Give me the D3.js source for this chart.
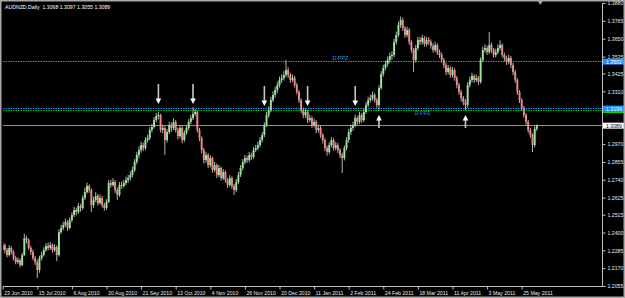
<!DOCTYPE html>
<html><head><meta charset="utf-8">
<script src="https://cdn.jsdelivr.net/npm/d3@7"></script>
<style>html,body{margin:0;padding:0;background:#000;}svg{display:block}</style>
</head><body>
<svg id="c" width="625" height="298"></svg>
<script>
const chartTitle = "AUDNZD,Daily  1.3068 1.3097 1.3055 1.3089";

const opens = [1.2290,1.2319,1.2287,1.2255,1.2300,1.2274,1.2235,1.2210,1.2222,1.2190,
1.2255,1.2364,1.2351,1.2300,1.2274,1.2235,1.2210,1.2158,1.2235,1.2255,
1.2287,1.2313,1.2300,1.2319,1.2287,1.2306,1.2255,1.2403,1.2429,1.2448,
1.2468,1.2429,1.2480,1.2513,1.2545,1.2532,1.2571,1.2558,1.2622,1.2661,
1.2700,1.2674,1.2577,1.2609,1.2635,1.2590,1.2622,1.2577,1.2558,1.2597,
1.2719,1.2706,1.2726,1.2674,1.2642,1.2706,1.2700,1.2719,1.2738,1.2751,
1.2771,1.2803,1.2855,1.2900,1.2932,1.2964,1.2945,1.2996,1.3009,1.3061,
1.3080,1.3125,1.3151,1.3158,1.3061,1.3074,1.2996,1.3048,1.3093,1.3074,
1.3113,1.3061,1.3022,1.3074,1.2996,1.3042,1.3074,1.3113,1.3138,1.3164,
1.3177,1.3061,1.3009,1.2932,1.2867,1.2900,1.2835,1.2880,1.2803,1.2835,
1.2771,1.2816,1.2751,1.2790,1.2738,1.2706,1.2751,1.2700,1.2674,1.2726,
1.2771,1.2816,1.2855,1.2880,1.2867,1.2900,1.2887,1.2932,1.2945,1.2964,
1.2996,1.3029,1.3093,1.3158,1.3190,1.3254,1.3287,1.3319,1.3351,1.3383,
1.3396,1.3416,1.3448,1.3416,1.3383,1.3396,1.3351,1.3306,1.3254,1.3190,
1.3158,1.3177,1.3125,1.3138,1.3093,1.3113,1.3061,1.3074,1.3029,1.2996,
1.2945,1.2919,1.2964,1.2996,1.2945,1.2964,1.2932,1.2900,1.2880,1.2945,
1.2996,1.3048,1.3074,1.3093,1.3138,1.3113,1.3158,1.3125,1.3177,1.3222,
1.3254,1.3267,1.3287,1.3254,1.3222,1.3332,1.3422,1.3461,1.3487,1.3512,
1.3538,1.3545,1.3629,1.3674,1.3738,1.3770,1.3719,1.3674,1.3706,1.3629,
1.3577,1.3512,1.3590,1.3641,1.3629,1.3654,1.3616,1.3641,1.3629,1.3603,
1.3577,1.3609,1.3564,1.3545,1.3512,1.3480,1.3435,1.3461,1.3416,1.3448,
1.3396,1.3351,1.3306,1.3267,1.3242,1.3222,1.3351,1.3383,1.3409,1.3383,
1.3396,1.3371,1.3512,1.3577,1.3590,1.3564,1.3609,1.3577,1.3545,1.3564,
1.3590,1.3609,1.3545,1.3525,1.3500,1.3525,1.3480,1.3435,1.3383,1.3306,
1.3254,1.3203,1.3158,1.3113,1.3061,1.3029,1.2964,1.3068];

const highs = [1.2345,1.2330,1.2300,1.2318,1.2312,1.2285,1.2250,1.2240,1.2232,1.2270,
1.2392,1.2380,1.2362,1.2315,1.2290,1.2248,1.2225,1.2250,1.2275,1.2305,
1.2330,1.2335,1.2338,1.2330,1.2325,1.2318,1.2420,1.2450,1.2470,1.2490,
1.2480,1.2498,1.2530,1.2565,1.2560,1.2590,1.2585,1.2640,1.2690,1.2722,
1.2710,1.2685,1.2630,1.2660,1.2648,1.2645,1.2635,1.2592,1.2615,1.2738,
1.2740,1.2750,1.2738,1.2690,1.2725,1.2728,1.2738,1.2760,1.2772,1.2795,
1.2825,1.2875,1.2920,1.2955,1.2985,1.2980,1.3015,1.3030,1.3080,1.3100,
1.3145,1.3170,1.3177,1.3165,1.3095,1.3085,1.3065,1.3115,1.3110,1.3135,
1.3125,1.3075,1.3090,1.3085,1.3060,1.3092,1.3130,1.3158,1.3209,1.3195,
1.3185,1.3075,1.3020,1.2945,1.2920,1.2912,1.2898,1.2890,1.2855,1.2845,
1.2835,1.2825,1.2808,1.2800,1.2750,1.2770,1.2762,1.2712,1.2745,1.2790,
1.2835,1.2875,1.2900,1.2895,1.2920,1.2915,1.2950,1.2965,1.2985,1.3015,
1.3048,1.3110,1.3178,1.3212,1.3275,1.3310,1.3340,1.3372,1.3405,1.3420,
1.3440,1.3512,1.3465,1.3430,1.3420,1.3410,1.3365,1.3318,1.3265,1.3205,
1.3198,1.3190,1.3160,1.3150,1.3135,1.3125,1.3095,1.3088,1.3040,1.3008,
1.2960,1.2982,1.3015,1.3008,1.2985,1.2978,1.2945,1.2915,1.2962,1.3015,
1.3068,1.3095,1.3115,1.3160,1.3150,1.3178,1.3170,1.3198,1.3242,1.3275,
1.3290,1.3310,1.3300,1.3268,1.3350,1.3440,1.3482,1.3508,1.3535,1.3560,
1.3568,1.3650,1.3695,1.3760,1.3792,1.3785,1.3730,1.3728,1.3718,1.3640,
1.3590,1.3610,1.3662,1.3660,1.3675,1.3668,1.3662,1.3660,1.3645,1.3620,
1.3630,1.3620,1.3580,1.3560,1.3525,1.3495,1.3480,1.3472,1.3468,1.3460,
1.3410,1.3365,1.3320,1.3280,1.3260,1.3370,1.3405,1.3430,1.3420,1.3418,
1.3410,1.3530,1.3598,1.3612,1.3605,1.3693,1.3625,1.3590,1.3585,1.3612,
1.3640,1.3620,1.3560,1.3540,1.3545,1.3538,1.3495,1.3448,1.3395,1.3318,
1.3265,1.3215,1.3170,1.3125,1.3075,1.3040,1.3085,1.3097];

const lows = [1.2270,1.2265,1.2240,1.2245,1.2258,1.2220,1.2195,1.2198,1.2175,1.2182,
1.2248,1.2330,1.2290,1.2255,1.2220,1.2190,1.2106,1.2140,1.2220,1.2245,
1.2275,1.2285,1.2288,1.2270,1.2275,1.2215,1.2245,1.2390,1.2415,1.2435,
1.2410,1.2420,1.2468,1.2500,1.2510,1.2520,1.2535,1.2545,1.2610,1.2650,
1.2655,1.2532,1.2560,1.2595,1.2575,1.2580,1.2560,1.2540,1.2545,1.2590,
1.2690,1.2695,1.2655,1.2609,1.2630,1.2682,1.2688,1.2705,1.2720,1.2735,
1.2755,1.2790,1.2840,1.2880,1.2915,1.2925,1.2930,1.2980,1.2995,1.3045,
1.3070,1.3110,1.3130,1.3045,1.3040,1.2900,1.2980,1.3035,1.3050,1.3060,
1.3045,1.3000,1.3010,1.2975,1.2985,1.3030,1.3060,1.3100,1.3125,1.3150,
1.3045,1.2990,1.2910,1.2845,1.2850,1.2815,1.2820,1.2785,1.2790,1.2750,
1.2758,1.2735,1.2738,1.2720,1.2688,1.2695,1.2680,1.2642,1.2660,1.2712,
1.2758,1.2800,1.2840,1.2848,1.2852,1.2868,1.2875,1.2918,1.2930,1.2950,
1.2980,1.3015,1.3080,1.3140,1.3175,1.3240,1.3270,1.3300,1.3335,1.3365,
1.3380,1.3400,1.3398,1.3365,1.3370,1.3335,1.3290,1.3235,1.3170,1.3138,
1.3140,1.3105,1.3110,1.3075,1.3078,1.3040,1.3045,1.3010,1.2975,1.2925,
1.2895,1.2905,1.2950,1.2928,1.2930,1.2912,1.2880,1.2784,1.2865,1.2930,
1.2980,1.3030,1.3055,1.3080,1.3095,1.3100,1.3108,1.3112,1.3165,1.3208,
1.3238,1.3250,1.3238,1.3205,1.3190,1.3320,1.3405,1.3445,1.3470,1.3495,
1.3515,1.3530,1.3612,1.3660,1.3720,1.3700,1.3655,1.3660,1.3610,1.3560,
1.3435,1.3495,1.3575,1.3610,1.3612,1.3598,1.3600,1.3610,1.3585,1.3560,
1.3562,1.3545,1.3525,1.3495,1.3460,1.3415,1.3420,1.3398,1.3400,1.3378,
1.3330,1.3288,1.3245,1.3220,1.3190,1.3205,1.3335,1.3368,1.3365,1.3370,
1.3352,1.3360,1.3498,1.3560,1.3545,1.3550,1.3558,1.3528,1.3530,1.3550,
1.3575,1.3528,1.3505,1.3480,1.3485,1.3460,1.3415,1.3365,1.3288,1.3235,
1.3185,1.3140,1.3095,1.3042,1.3010,1.2919,1.2950,1.3055];

const closes = [1.2319,1.2287,1.2255,1.2300,1.2274,1.2235,1.2210,1.2222,1.2190,1.2255,
1.2364,1.2351,1.2300,1.2274,1.2235,1.2210,1.2158,1.2235,1.2255,1.2287,
1.2313,1.2300,1.2319,1.2287,1.2306,1.2255,1.2403,1.2429,1.2448,1.2468,
1.2429,1.2480,1.2513,1.2545,1.2532,1.2571,1.2558,1.2622,1.2661,1.2700,
1.2674,1.2577,1.2609,1.2635,1.2590,1.2622,1.2577,1.2558,1.2597,1.2719,
1.2706,1.2726,1.2674,1.2642,1.2706,1.2700,1.2719,1.2738,1.2751,1.2771,
1.2803,1.2855,1.2900,1.2932,1.2964,1.2945,1.2996,1.3009,1.3061,1.3080,
1.3125,1.3151,1.3158,1.3061,1.3074,1.2996,1.3048,1.3093,1.3074,1.3113,
1.3061,1.3022,1.3074,1.2996,1.3042,1.3074,1.3113,1.3138,1.3164,1.3177,
1.3061,1.3009,1.2932,1.2867,1.2900,1.2835,1.2880,1.2803,1.2835,1.2771,
1.2816,1.2751,1.2790,1.2738,1.2706,1.2751,1.2700,1.2674,1.2726,1.2771,
1.2816,1.2855,1.2880,1.2867,1.2900,1.2887,1.2932,1.2945,1.2964,1.2996,
1.3029,1.3093,1.3158,1.3190,1.3254,1.3287,1.3319,1.3351,1.3383,1.3396,
1.3416,1.3448,1.3416,1.3383,1.3396,1.3351,1.3306,1.3254,1.3190,1.3158,
1.3177,1.3125,1.3138,1.3093,1.3113,1.3061,1.3074,1.3029,1.2996,1.2945,
1.2919,1.2964,1.2996,1.2945,1.2964,1.2932,1.2900,1.2880,1.2945,1.2996,
1.3048,1.3074,1.3093,1.3138,1.3113,1.3158,1.3125,1.3177,1.3222,1.3254,
1.3267,1.3287,1.3254,1.3222,1.3332,1.3422,1.3461,1.3487,1.3512,1.3538,
1.3545,1.3629,1.3674,1.3738,1.3770,1.3719,1.3674,1.3706,1.3629,1.3577,
1.3512,1.3590,1.3641,1.3629,1.3654,1.3616,1.3641,1.3629,1.3603,1.3577,
1.3609,1.3564,1.3545,1.3512,1.3480,1.3435,1.3461,1.3416,1.3448,1.3396,
1.3351,1.3306,1.3267,1.3242,1.3222,1.3351,1.3383,1.3409,1.3383,1.3396,
1.3371,1.3512,1.3577,1.3590,1.3564,1.3609,1.3577,1.3545,1.3564,1.3590,
1.3609,1.3545,1.3525,1.3500,1.3525,1.3480,1.3435,1.3383,1.3306,1.3254,
1.3203,1.3158,1.3113,1.3061,1.3029,1.2964,1.3068,1.3089];

// date axis: one label every 16 daily bars, starting at bar 0
const dateLabels = ["23 Jun 2010","15 Jul 2010","6 Aug 2010","30 Aug 2010","21 Sep 2010","13 Oct 2010",
  "4 Nov 2010","26 Nov 2010","20 Dec 2010","11 Jan 2011","2 Feb 2011","24 Feb 2011","18 Mar 2011",
  "11 Apr 2011","3 May 2011","25 May 2011"];
const dateLabelBars = [0,16,32,48,64,80,96,112,128,144,160,176,192,208,224,240];

const priceTicks = [1.3880,1.3765,1.3650,1.3535,1.3425,1.3310,1.2970,1.2855,1.2740,1.2625,1.2515,1.2400,1.2285,1.2170,1.2055];

// horizontal levels
const blueLevels = [1.3502, 1.3199];
const greenLevels = [1.3187];
const bidPrice = 1.3089;
const ppzLabels = [{bar:152.5, price:1.3515, text:"D PPZ"}, {bar:190.5, price:1.3160, text:"D PPZ"}];

// arrows: bar index, tip price, direction
const arrowBars   = [72, 88, 121, 141, 163, 174, 214];
const arrowPrices = [1.3229, 1.3229, 1.3216, 1.3216, 1.3216, 1.3158, 1.3158];
const arrowDirs   = ["down","down","down","down","down","up","up"];

const svg = d3.select("#c");
const W = 625, H = 298;
const plotL = 3, plotR = 602, plotT = 3, plotB = 286;
const font = "'Liberation Sans', Arial, sans-serif";

svg.append("rect").attr("width", W).attr("height", H).attr("fill", "#000");

const x = d3.scaleLinear().domain([0, 247]).range([2.7, 2.7 + 247 * 2.1625]);
const y = d3.scaleLinear().domain([1.2055, 1.3880]).range([plotB, plotT]);
const ly = p => Math.floor(y(p) + 1e-6) + 0.5;

const plot = svg.append("g");
plot.append("clipPath").attr("id","clip").append("rect")
  .attr("x", plotL).attr("y", plotT).attr("width", plotR - plotL).attr("height", plotB - plotT);
const g = plot.append("g").attr("clip-path", "url(#clip)");

// level lines
blueLevels.forEach(p => g.append("line").attr("x1", plotL).attr("x2", plotR)
  .attr("y1", ly(p)).attr("y2", ly(p))
  .attr("stroke", "#1e90ff").attr("stroke-width", 1).attr("stroke-dasharray", "1.5,1"));
greenLevels.forEach(p => g.append("line").attr("x1", plotL).attr("x2", plotR)
  .attr("y1", ly(p)).attr("y2", ly(p))
  .attr("stroke", "#00c800").attr("stroke-width", 1).attr("stroke-dasharray", "1.5,1"));
g.append("line").attr("x1", plotL).attr("x2", plotR)
  .attr("y1", ly(bidPrice)).attr("y2", ly(bidPrice))
  .attr("stroke", "#8092a4").attr("stroke-width", 1);

// candles
const bars = d3.range(closes.length).map(i => ({i, o: opens[i], h: highs[i], l: lows[i], c: closes[i]}));
const cg = g.append("g");
cg.selectAll("line.w").data(bars).join("line").attr("class", "w")
  .attr("x1", d => x(d.i)).attr("x2", d => x(d.i))
  .attr("y1", d => y(Math.max(d.h, d.o, d.c))).attr("y2", d => y(Math.min(d.l, d.o, d.c)))
  .attr("stroke", "#c8c8c8").attr("stroke-width", 0.9);
cg.selectAll("rect.b").data(bars).join("rect").attr("class", "b")
  .attr("x", d => x(d.i) - 0.95).attr("width", 1.9)
  .attr("y", d => y(Math.max(d.o, d.c)))
  .attr("height", d => Math.max(0.8, Math.abs(y(d.o) - y(d.c))))
  .attr("fill", d => d.c >= d.o ? "#98e898" : "#f08888");

// PPZ labels
ppzLabels.forEach(t => g.append("text").attr("x", x(t.bar)).attr("y", y(t.price))
  .attr("fill", "#1e90ff").attr("font-family", font).attr("font-size", 5.4).text(t.text));

// arrows
arrowBars.forEach((b, k) => {
  const ax = x(b), ty = y(arrowPrices[k]);
  const s = arrowDirs[k] === "down" ? -1 : 1;
  const len = arrowDirs[k] === "down" ? 20 : 13;
  g.append("line").attr("x1", ax).attr("x2", ax).attr("y1", ty + s * 5).attr("y2", ty + s * len)
    .attr("stroke", "#c8c8c8").attr("stroke-width", 1.6);
  g.append("path").attr("d", `M${ax - 2.8},${ty + s * 5.5} L${ax + 2.8},${ty + s * 5.5} L${ax},${ty} Z`)
    .attr("fill", "#ffffff");
});

// title
svg.append("text").attr("x", 5).attr("y", 9).attr("fill", "#ffffff")
  .attr("font-family", font).attr("font-size", 5.2).attr("xml:space", "preserve")
  .style("white-space", "pre").text(chartTitle);

// axes
const axisColor = "#c0c0c0";
svg.append("line").attr("x1", plotR + 0.5).attr("x2", plotR + 0.5).attr("y1", plotT).attr("y2", plotB + 0.5)
  .attr("stroke", axisColor);
svg.append("line").attr("x1", plotL).attr("x2", plotR + 0.5).attr("y1", plotB + 0.5).attr("y2", plotB + 0.5)
  .attr("stroke", axisColor);

const yAxis = d3.axisRight(y).tickValues(priceTicks).tickSize(3).tickPadding(2).tickFormat(d3.format(".4f"));
const ya = svg.append("g").attr("transform", `translate(${plotR + 0.5},0)`).call(yAxis);
ya.select(".domain").remove();
ya.selectAll("line").attr("stroke", axisColor);
ya.selectAll("text").attr("fill", "#e8e8e8").attr("font-family", font).attr("font-size", 5.2);

const xAxis = d3.axisBottom(x).tickValues(dateLabelBars).tickSize(3)
  .tickFormat((d, k) => dateLabels[k]);
const xa = svg.append("g").attr("transform", `translate(0,${plotB + 0.5})`).call(xAxis);
xa.select(".domain").remove();
xa.selectAll("line").attr("stroke", axisColor);
xa.selectAll("text").attr("fill", "#e8e8e8").attr("font-family", font).attr("font-size", 5.2)
  .attr("text-anchor", "start").attr("dx", 1).attr("dy", 0).attr("y", 8.5);

// right-axis price tags
function tag(p, bg, fg) {
  const ty = y(p);
  svg.append("rect").attr("x", plotR + 1).attr("y", ty - 3).attr("width", 21).attr("height", 6).attr("fill", bg);
  svg.append("text").attr("x", plotR + 4).attr("y", ty + 2).attr("fill", fg)
    .attr("font-family", font).attr("font-size", 5.2).text(d3.format(".4f")(p));
}
tag(blueLevels[0], "#1e90ff", "#ffffff");
svg.append("rect").attr("x", plotR + 1).attr("y", y(blueLevels[1]) + 2.6).attr("width", 21).attr("height", 1.8).attr("fill", "#00e000");
tag(blueLevels[1], "#1e90ff", "#ffffff");
tag(bidPrice, "#ffffff", "#000000");

// chart-shift marker
const sx = x(247) + 3.5;
svg.append("path").attr("d", `M${sx - 2.5},1 L${sx + 2.5},1 L${sx},5 Z`).attr("fill", "#a0a0a0");

// window frame
svg.append("rect").attr("x", 0.75).attr("y", 0.75).attr("width", W - 1.5).attr("height", H - 1.5)
  .attr("fill", "none").attr("stroke", "#a8a8a8").attr("stroke-width", 1.5);
</script>
</body></html>
